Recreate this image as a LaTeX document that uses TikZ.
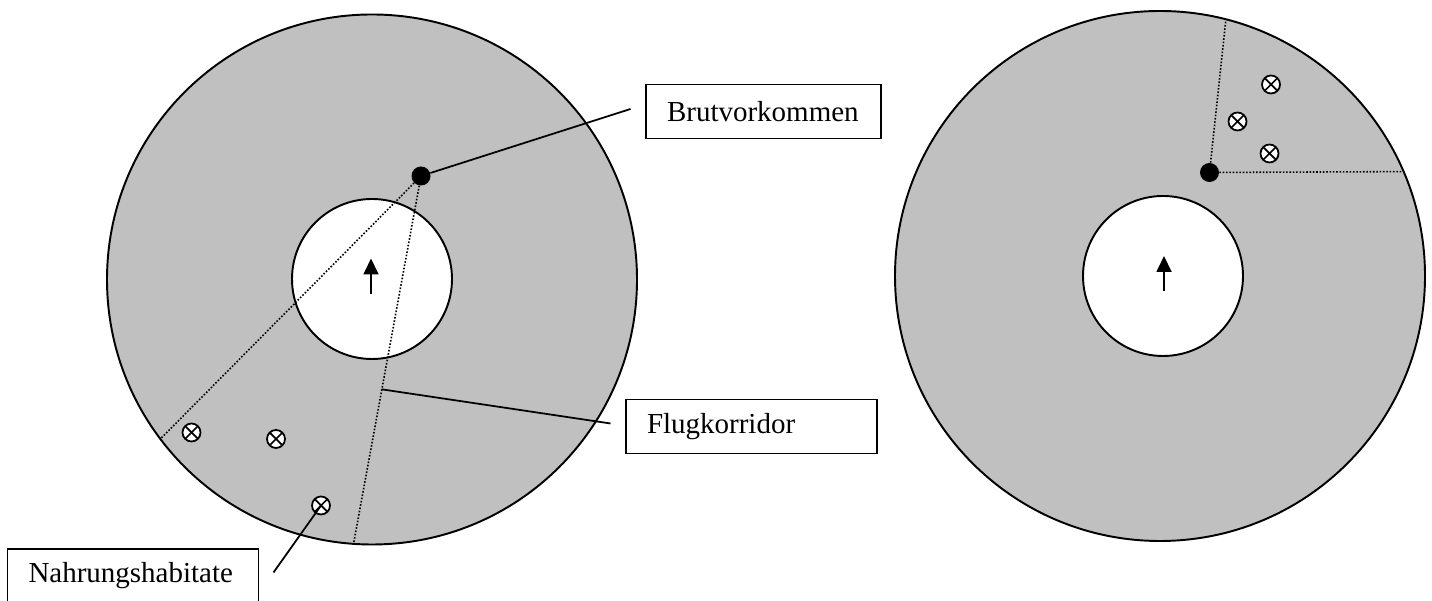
\documentclass[tikz,border=0pt]{standalone}
\usepackage{fontspec}
\setmainfont{Liberation Serif}
\usetikzlibrary{arrows.meta,calc}
\definecolor{ringgray}{RGB}{192,192,192}
\tikzset{
  ring/.style={
    draw,
    fill = ringgray,
    line width = 1.1pt
  },
  hole/.style={
    draw,
    fill = white,
    line width = 1.1pt
  },
  nest/.style={
    shape = circle,
    fill,
    inner sep = 0pt,
    minimum size = 0.38cm
  },
  habitat/.style={
    shape = circle,
    draw,
    fill = white,
    line width = 1pt,
    inner sep = 0pt,
    minimum size = 0.36cm,
    path picture={
      \draw[line width=1pt] (path picture bounding box.north west) -- (path picture bounding box.south east)
        (path picture bounding box.north east) -- (path picture bounding box.south west);
    }
  },
  corridor/.style={
    densely dotted,
    line width = 0.9pt
  },
  pointer/.style={
    line width = 1pt
  },
  heading/.style={
    line width = 1pt,
    -{Triangle[length=0.32cm,width=0.3cm]}
  },
  labelbox/.style={
    draw,
    line width = 1pt,
    inner xsep = 0.42cm,
    minimum height = 1.08cm,
    align = left,
    font = \fontsize{16.5}{20}\selectfont
  }
}
\begin{document}
\begin{tikzpicture}
            \useasboundingbox (0,0) rectangle (28.64,12.02);
            \coordinate (L) at (7.44,6.43);
            \coordinate (R) at (23.2,6.5);
            % left area
            \draw[ring] (L) circle (5.3);
            \draw[hole] (7.44,6.44) circle (1.6);
            \node[nest] (bvL) at (8.42,8.5) {};
            \coordinate (fA) at ($(L)+(217:5.3)$);
            \coordinate (fB) at ($(L)+(266:5.3)$);
            \draw[corridor] (bvL) -- (fA);
            \draw[corridor] (bvL) -- (fB);
            \draw[heading] (7.42,6.14) --++ (0,0.71);
            \foreach \x/\y [count=\i] in {3.83/3.37, 5.52/3.24, 6.42/1.91}{
                    \node[habitat] (hL\i) at (\x,\y) {};
                }
            % right area
            \draw[ring] (R) circle (5.3);
            \draw[hole] (23.26,6.5) circle (1.6);
            \node[nest] (bvR) at (24.19,8.57) {};
            \coordinate (gA) at ($(R)+(75.6:5.3)$);
            \coordinate (gB) at ($(R)+(23.2:5.3)$);
            \draw[corridor] (bvR) -- (gA);
            \draw[corridor] (bvR) -- (gB);
            \draw[heading] (23.28,6.2) --++ (0,0.7);
            \foreach \x/\y [count=\i] in {25.42/10.33, 24.75/9.59, 25.39/8.95}{
                    \node[habitat] (hR\i) at (\x,\y) {};
                }
            % labels
            \node[labelbox, text width=3.86cm] (brut) at (15.27,9.79) {Brutvorkommen};
            \node[labelbox, text width=4.18cm] (flug) at (15.03,3.49) {Flugkorridor};
            \node[labelbox, text width=4.18cm] (nahr) at (2.66,0.5) {Nahrungshabitate};
            \coordinate (brutend) at (12.61,9.84);
            \coordinate (fk) at ($(bvL)!0.58!(fB)$);
            \coordinate (flugend) at (12.21,3.55);
            \coordinate (nahrend) at (5.47,0.57);
            \draw[pointer] (bvL) -- (brutend);
            \draw[pointer] (fk) -- (flugend);
            \draw[pointer] (hL3.center) -- (nahrend);
        \end{tikzpicture}
\end{document}
